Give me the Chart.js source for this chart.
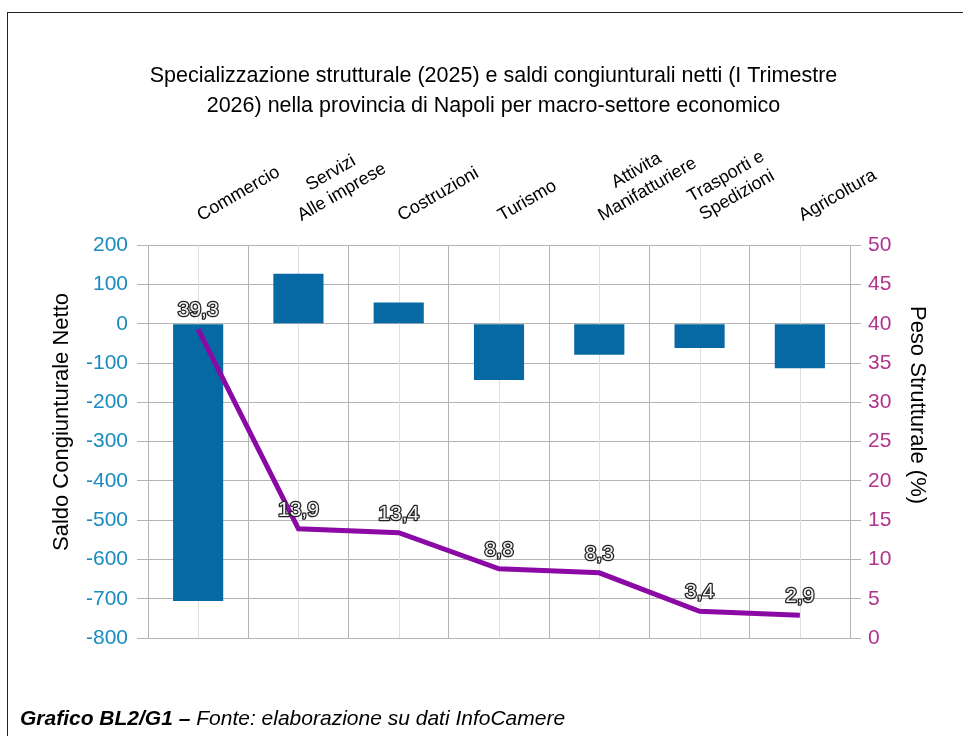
<!DOCTYPE html>
<html>
<head>
<meta charset="utf-8">
<script src="https://cdn.jsdelivr.net/npm/chart.js@4"></script>
<style>
  html, body { margin: 0; padding: 0; background: #fff; overflow: hidden; }
  #wrap { position: relative; width: 963px; height: 736px; }
  #frame { position: absolute; left: 7px; top: 12px; width: 1000px; height: 800px;
           border-top: 1px solid #222; border-left: 1px solid #222; }
  canvas { position: absolute; left: 0; top: 0; }
  #foot { position: absolute; left: 20px; top: 706px; font-family: "Liberation Sans", Arial, sans-serif;
          font-style: italic; font-size: 21px; color: #000; white-space: nowrap; }
</style>
</head>
<body>
<div id="wrap">
  <div id="frame"></div>
  <canvas id="c" width="963" height="736"></canvas>
  <div id="foot"><b>Grafico BL2/G1 –</b> Fonte: elaborazione su dati InfoCamere</div>
</div>
<script>
const categories = [
  "Commercio",
  ["Servizi", "Alle imprese"],
  "Costruzioni",
  "Turismo",
  ["Attivita", "Manifatturiere"],
  ["Trasporti e", "Spedizioni"],
  "Agricoltura"
];
const saldoNetto = [-706, 127, 54, -143, -79, -62, -113];
const pesoStrutturale = [39.3, 13.9, 13.4, 8.8, 8.3, 3.4, 2.9];
const pesoLabels = ["39,3", "13,9", "13,4", "8,8", "8,3", "3,4", "2,9"];
const titleLines = [
  "Specializzazione strutturale (2025) e saldi congiunturali netti (I Trimestre",
  "2026) nella provincia di Napoli per macro-settore economico"
];
const leftTitle = "Saldo Congiunturale Netto";
const rightTitle = "Peso Strutturale (%)";

const FONT = '"Liberation Sans", Arial, sans-serif';
const GRID = '#b4b4b4';

const extras = {
  id: 'extras',
  beforeDatasetsDraw(chart) {
    const {ctx, chartArea, scales} = chart;
    const x = scales.x;
    ctx.save();
    ctx.strokeStyle = '#dedede';
    ctx.lineWidth = 1;
    for (let i = 0; i < categories.length; i++) {
      const px = Math.round(x.getPixelForValue(i)) + 0.5;
      ctx.beginPath();
      ctx.moveTo(px, chartArea.top);
      ctx.lineTo(px, chartArea.bottom);
      ctx.stroke();
    }
    ctx.restore();
  },
  afterDraw(chart) {
    const {ctx, chartArea, scales} = chart;
    const x = scales.x;
    ctx.save();
    ctx.font = '18px ' + FONT;
    ctx.fillStyle = '#000';
    ctx.textBaseline = 'alphabetic';
    ctx.textAlign = 'center';
    const lh = 22;
    const ang = -30 * Math.PI / 180;
    categories.forEach((lab, i) => {
      const lines = Array.isArray(lab) ? lab : [lab];
      const w = Math.max(...lines.map(l => ctx.measureText(l).width));
      ctx.save();
      ctx.translate(x.getPixelForValue(i) + 3, chartArea.top - 24);
      ctx.rotate(ang);
      lines.forEach((l, k) => {
        ctx.fillText(l, w / 2, -(lines.length - 1 - k) * lh);
      });
      ctx.restore();
    });
    ctx.restore();
  },
  afterDatasetsDraw(chart) {
    const {ctx} = chart;
    const meta = chart.getDatasetMeta(0);
    ctx.save();
    ctx.font = '21px ' + FONT;
    ctx.textAlign = 'center';
    ctx.textBaseline = 'middle';
    ctx.lineJoin = 'round';
    meta.data.forEach((pt, i) => {
      const tx = pt.x, ty = pt.y - 19;
      ctx.lineWidth = 2.6;
      ctx.strokeStyle = '#222';
      ctx.strokeText(pesoLabels[i], tx, ty);
      ctx.fillStyle = '#f2f2f2';
      ctx.fillText(pesoLabels[i], tx, ty);
    });
    ctx.fillStyle = '#000';
    ctx.font = '22px ' + FONT;
    ctx.save();
    ctx.translate(62, 422);
    ctx.rotate(-Math.PI / 2);
    ctx.fillText(leftTitle, 0, 0);
    ctx.restore();
    ctx.save();
    ctx.translate(917, 405);
    ctx.rotate(Math.PI / 2);
    ctx.fillText(rightTitle, 0, 0);
    ctx.restore();
    ctx.restore();
  }
};

new Chart(document.getElementById('c'), {
  type: 'bar',
  data: {
    labels: categories,
    datasets: [
      {
        type: 'line',
        label: 'Peso Strutturale (%)',
        data: pesoStrutturale,
        yAxisID: 'y2',
        borderColor: '#8b0aa5',
        backgroundColor: '#8b0aa5',
        borderWidth: 5,
        pointRadius: 0,
        tension: 0,
        order: 0
      },
      {
        type: 'bar',
        label: 'Saldo Congiunturale Netto',
        data: saldoNetto,
        yAxisID: 'y',
        backgroundColor: '#0669a4',
        barPercentage: 0.5,
        categoryPercentage: 1.0,
        order: 1
      }
    ]
  },
  options: {
    responsive: false,
    animation: false,
    maintainAspectRatio: false,
    layout: { padding: { top: 0, left: 24, right: 0, bottom: 98 } },
    plugins: {
      legend: { display: false },
      tooltip: { enabled: false },
      title: {
        display: true,
        text: titleLines,
        color: '#000',
        font: { family: FONT, size: 21.5, weight: 'normal', lineHeight: 1.4 },
        padding: { top: 61, bottom: 0 }
      }
    },
    scales: {
      x: {
        position: 'top',
        offset: true,
        grid: { color: GRID, drawTicks: false, offset: true },
        border: { color: GRID },
        ticks: { display: false },
        afterFit(s) { s.height = 245 - 121; }
      },
      y: {
        position: 'left',
        min: -800,
        max: 200,
        ticks: { stepSize: 100, color: '#1a8bbf', font: { family: FONT, size: 21 }, padding: 9 },
        grid: { color: GRID, tickLength: 11 },
        border: { color: GRID },
        afterFit(s) { s.width = 124; }
      },
      y2: {
        position: 'right',
        min: 0,
        max: 50,
        ticks: { stepSize: 5, color: '#b0338e', font: { family: FONT, size: 21 }, padding: 7 },
        grid: { drawOnChartArea: false, color: GRID, tickLength: 11 },
        border: { color: GRID },
        afterFit(s) { s.width = 113; }
      }
    }
  },
  plugins: [extras]
});
</script>
</body>
</html>
